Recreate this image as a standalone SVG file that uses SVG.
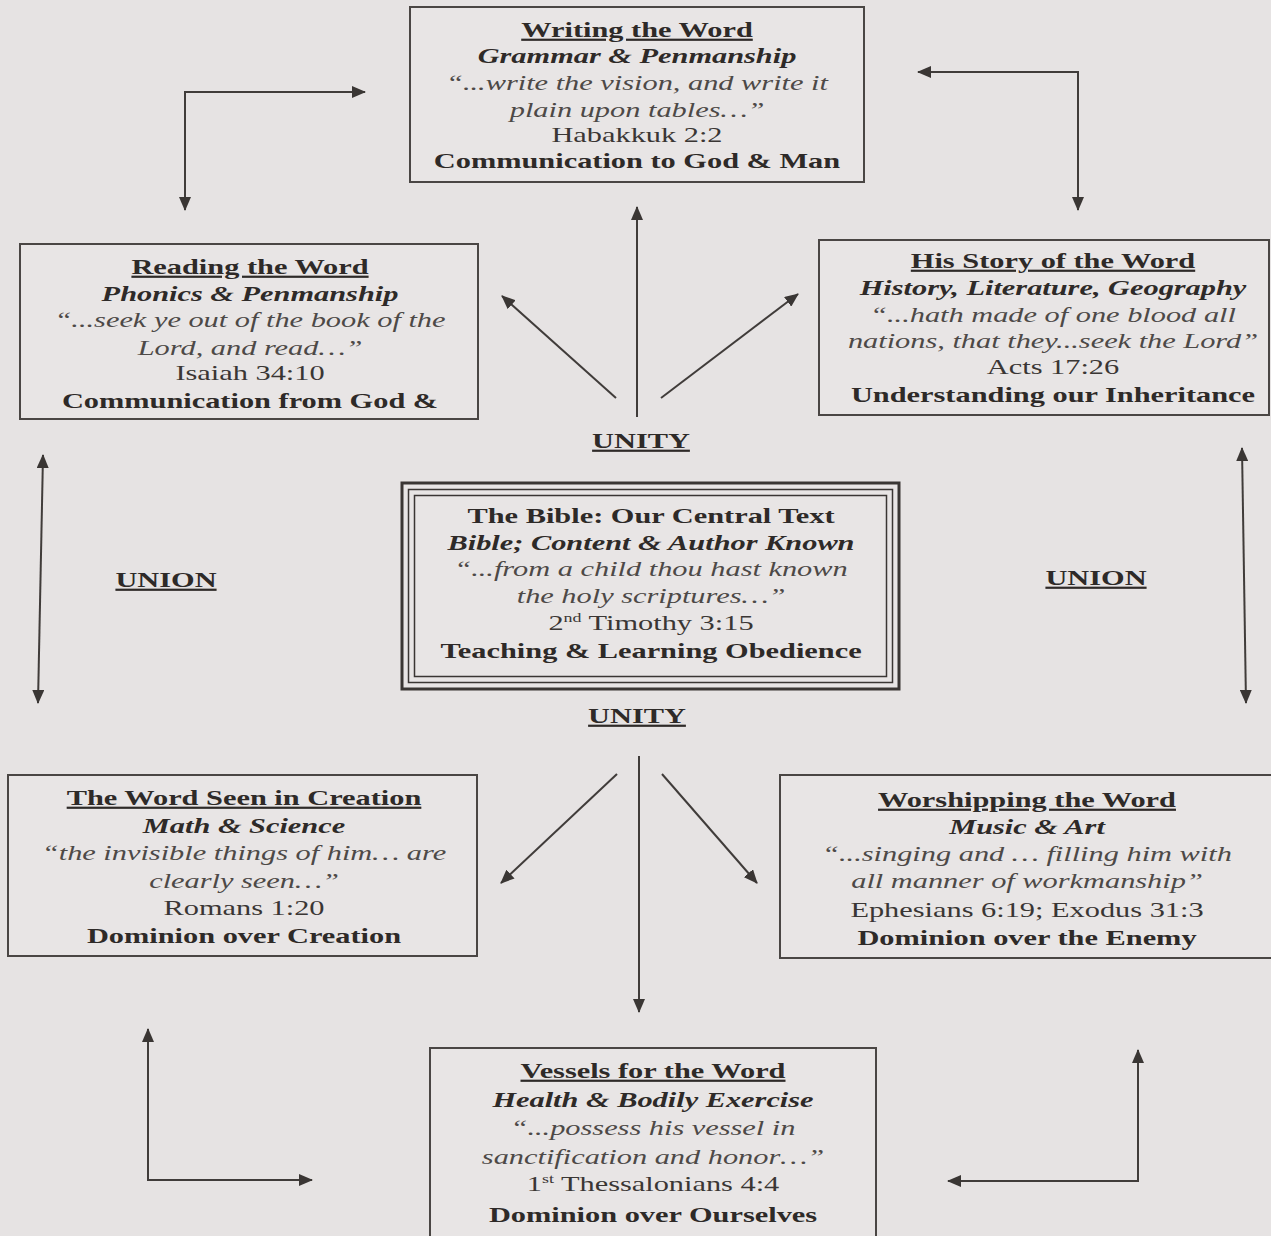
<svg xmlns="http://www.w3.org/2000/svg" width="1271" height="1236" viewBox="0 0 1271 1236">
<style>
.bg{fill:#e6e3e3}
.box{fill:#e8e5e5;stroke:#4a4644;stroke-width:2}
.t{font-family:"Liberation Serif","Times New Roman",serif;font-size:22px;text-anchor:middle;fill:#2e2a28}
.h{font-weight:bold;text-decoration:underline}
.bi{font-weight:bold;font-style:italic}
.q{font-style:italic;fill:#4d4947}
.r{fill:#3a3634}
.b{font-weight:bold}
.c{fill:none;stroke:#403c3a;stroke-width:2}
</style>
<defs>
<marker id="ah" viewBox="0 0 14 12" refX="13" refY="6" markerWidth="14" markerHeight="12" markerUnits="userSpaceOnUse" orient="auto-start-reverse">
<path d="M0,0 L14,6 L0,12 z" fill="#3a3634"/>
</marker>
</defs>
<rect class="bg" x="0" y="0" width="1271" height="1236"/>

<g id="connectors">
<path class="c" d="M365,92 H185 V210" marker-start="url(#ah)" marker-end="url(#ah)"/>
<path class="c" d="M918,72 H1078 V210" marker-start="url(#ah)" marker-end="url(#ah)"/>
<path class="c" d="M637,417 V207" marker-end="url(#ah)"/>
<path class="c" d="M616,398 L502,296" marker-end="url(#ah)"/>
<path class="c" d="M661,398 L798,294" marker-end="url(#ah)"/>
<path class="c" d="M639,756 V1012" marker-end="url(#ah)"/>
<path class="c" d="M617,774 L501,883" marker-end="url(#ah)"/>
<path class="c" d="M662,774 L757,883" marker-end="url(#ah)"/>
<path class="c" d="M43,455 L38,703" marker-start="url(#ah)" marker-end="url(#ah)"/>
<path class="c" d="M1242,448 L1246,703" marker-start="url(#ah)" marker-end="url(#ah)"/>
<path class="c" d="M148,1029 V1180 H312" marker-start="url(#ah)" marker-end="url(#ah)"/>
<path class="c" d="M1138,1050 V1181 H948" marker-start="url(#ah)" marker-end="url(#ah)"/>
</g>

<g id="writing">
<rect class="box" x="410" y="7" width="454" height="175"/>
<g class="t" transform="translate(637,0) scale(1.38,1)">
<text class="h" x="0" y="37">Writing the Word</text>
<text class="bi" x="0" y="63">Grammar &amp; Penmanship</text>
<text class="q" x="0" y="90">“...write the vision, and write it</text>
<text class="q" x="0" y="117">plain upon tables…”</text>
<text class="r" x="0" y="142">Habakkuk 2:2</text>
<text class="b" x="0" y="168">Communication to God &amp; Man</text>
</g>
</g>

<g id="reading">
<rect class="box" x="20" y="244" width="458" height="175"/>
<g class="t" transform="translate(250,0) scale(1.38,1)">
<text class="h" x="0" y="274">Reading the Word</text>
<text class="bi" x="0" y="301">Phonics &amp; Penmanship</text>
<text class="q" x="0" y="327">“...seek ye out of the book of the</text>
<text class="q" x="0" y="355">Lord, and read…”</text>
<text class="r" x="0" y="380">Isaiah 34:10</text>
<text class="b" x="0" y="408">Communication from God &amp;</text>
</g>
</g>

<g id="history">
<rect class="box" x="819" y="240" width="450" height="175"/>
<g class="t" transform="translate(1053,0) scale(1.38,1)">
<text class="h" x="0" y="268">His Story of the Word</text>
<text class="bi" x="0" y="295">History, Literature, Geography</text>
<text class="q" x="0" y="322">“...hath made of one blood all</text>
<text class="q" x="0" y="348">nations, that they...seek the Lord”</text>
<text class="r" x="0" y="374">Acts 17:26</text>
<text class="b" x="0" y="402">Understanding our Inheritance</text>
</g>
</g>

<g id="bible">
<rect x="402" y="483" width="497" height="206" fill="#e8e5e5" stroke="#3a3634" stroke-width="3"/>
<rect x="408.5" y="489.5" width="484" height="193" fill="none" stroke="#3a3634" stroke-width="1.5"/>
<rect x="414.5" y="495.5" width="472" height="181" fill="none" stroke="#3a3634" stroke-width="1.5"/>
<g class="t" transform="translate(651,0) scale(1.38,1)">
<text class="b" x="0" y="523">The Bible: Our Central Text</text>
<text class="bi" x="0" y="550">Bible; Content &amp; Author Known</text>
<text class="q" x="0" y="576">“...from a child thou hast known</text>
<text class="q" x="0" y="603">the holy scriptures…”</text>
<text class="r" x="0" y="630">2<tspan font-size="13" dy="-8">nd</tspan><tspan dy="8"> Timothy 3:15</tspan></text>
<text class="b" x="0" y="658">Teaching &amp; Learning Obedience</text>
</g>
</g>

<g id="creation">
<rect class="box" x="8" y="775" width="469" height="181"/>
<g class="t" transform="translate(244,0) scale(1.38,1)">
<text class="h" x="0" y="805">The Word Seen in Creation</text>
<text class="bi" x="0" y="833">Math &amp; Science</text>
<text class="q" x="0" y="860">“the invisible things of him… are</text>
<text class="q" x="0" y="888">clearly seen…”</text>
<text class="r" x="0" y="915">Romans 1:20</text>
<text class="b" x="0" y="943">Dominion over Creation</text>
</g>
</g>

<g id="worship">
<rect class="box" x="780" y="775" width="500" height="183"/>
<g class="t" transform="translate(1027,0) scale(1.38,1)">
<text class="h" x="0" y="807">Worshipping the Word</text>
<text class="bi" x="0" y="834">Music &amp; Art</text>
<text class="q" x="0" y="861">“...singing and … filling him with</text>
<text class="q" x="0" y="888">all manner of workmanship”</text>
<text class="r" x="0" y="917">Ephesians 6:19; Exodus 31:3</text>
<text class="b" x="0" y="945">Dominion over the Enemy</text>
</g>
</g>

<g id="vessels">
<rect class="box" x="430" y="1048" width="446" height="200"/>
<g class="t" transform="translate(653,0) scale(1.38,1)">
<text class="h" x="0" y="1078">Vessels for the Word</text>
<text class="bi" x="0" y="1107">Health &amp; Bodily Exercise</text>
<text class="q" x="0" y="1135">“...possess his vessel in</text>
<text class="q" x="0" y="1164">sanctification and honor…”</text>
<text class="r" x="0" y="1191">1<tspan font-size="13" dy="-8">st</tspan><tspan dy="8"> Thessalonians 4:4</tspan></text>
<text class="b" x="0" y="1222">Dominion over Ourselves</text>
</g>
</g>

<g id="labels">
<g class="t" transform="translate(641,0) scale(1.38,1)"><text class="h" x="0" y="448">UNITY</text></g>
<g class="t" transform="translate(637,0) scale(1.38,1)"><text class="h" x="0" y="723">UNITY</text></g>
<g class="t" transform="translate(166,0) scale(1.38,1)"><text class="h" x="0" y="587">UNION</text></g>
<g class="t" transform="translate(1096,0) scale(1.38,1)"><text class="h" x="0" y="585">UNION</text></g>
</g>
</svg>
